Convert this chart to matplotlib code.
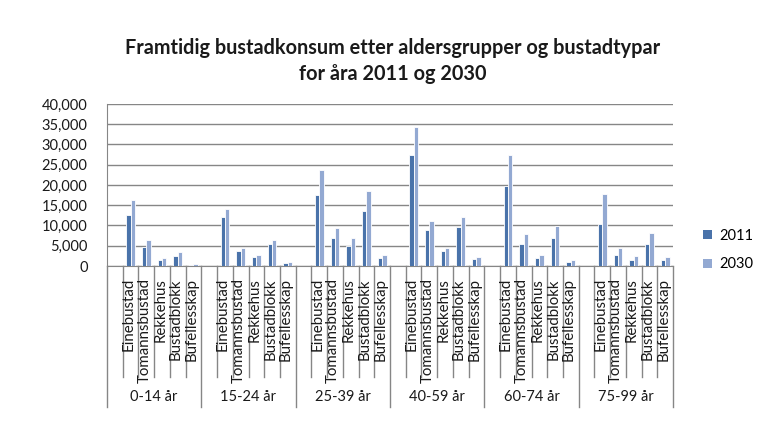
import matplotlib
matplotlib.use("Agg")
import matplotlib.pyplot as plt
import matplotlib.transforms as mtransforms
from matplotlib.patches import Patch
import numpy as np

plt.rcParams['font.family'] = ['Lato', 'DejaVu Sans']

title = "Framtidig bustadkonsum etter aldersgrupper og bustadtypar\nfor åra 2011 og 2030"
groups = ["0-14 år", "15-24 år", "25-39 år", "40-59 år", "60-74 år", "75-99 år"]
types = ["Einebustad", "Tomannsbustad", "Rekkehus", "Bustadblokk", "Bufellesskap"]
series_names = ["2011", "2030"]

v2011 = [
    [12500, 4700, 1500, 2500, 150],
    [12100, 3700, 2200, 5400, 700],
    [17500, 6900, 4900, 13500, 2000],
    [27300, 8900, 3700, 9600, 1700],
    [19700, 5400, 2000, 6900, 1000],
    [10300, 2700, 1500, 5400, 1500],
]
v2030 = [
    [16200, 6400, 2000, 3400, 500],
    [14000, 4400, 2700, 6400, 1000],
    [23600, 9500, 6800, 18600, 2600],
    [34400, 11200, 4350, 12200, 2100],
    [27500, 7800, 2600, 9800, 1500],
    [17900, 4350, 2400, 8100, 2100],
]
yticks = [0, 5000, 10000, 15000, 20000, 25000, 30000, 35000, 40000]

c2011 = "#4A73AA"
c2030 = "#93A9D2"
grid_c = "#868686"

fig = plt.figure(figsize=(7.76, 4.40), dpi=100)
ax = fig.add_axes([107/776, 1-266/440, (673-107)/776, (266-104)/440])

slots = len(types) + 1
n_slots = slots * len(groups)
centers = []
for g in range(len(groups)):
    for c in range(len(types)):
        centers.append(g*slots + c + 1 + 0.5)
centers = np.array(centers)
a = np.array(v2011).ravel()
b = np.array(v2030).ravel()
bw = 0.28
ax.bar(centers - bw/2, a, width=bw, color=c2011, edgecolor="white", linewidth=0.6, zorder=3)
ax.bar(centers + bw/2, b, width=bw, color=c2030, edgecolor="white", linewidth=0.6, zorder=3)

ax.set_xlim(0, n_slots)
ax.set_ylim(0, 40000)
ax.set_yticks(yticks)
ax.set_yticklabels([f"{t:,}" for t in yticks], fontsize=10.5, color="#1a1a1a")
ax.tick_params(axis='y', length=0, pad=14)
ax.set_xticks([])
ax.yaxis.grid(True, color=grid_c, linewidth=1.0, zorder=0)
for s in ["top", "right"]:
    ax.spines[s].set_visible(False)
ax.spines["left"].set_color(grid_c)
ax.spines["bottom"].set_color(grid_c)

trans = mtransforms.blended_transform_factory(ax.transData, ax.transAxes)
# category separator lines
for i in range(n_slots + 1):
    long = (i % slots == 0)
    y0 = -141/162 if long else -111/162
    ax.plot([i, i], [0, y0], color=grid_c, linewidth=1.0, transform=trans, clip_on=False)

# category labels
for x, lab in zip(centers, types * len(groups)):
    ax.text(x - 0.12, -12/162, lab, rotation=90, ha="center", va="top",
            fontsize=10.8, transform=trans, color="#1a1a1a")
# group labels
for g, lab in enumerate(groups):
    ax.text(g*slots + slots/2, -131/162, lab, ha="center", va="center",
            fontsize=10.5, transform=trans, color="#1a1a1a")

fig.text(0.506, 0.862, title, ha="center", va="center", fontsize=14.3,
         fontweight="bold", linespacing=1.35, color="#1a1a1a")

handles = [Patch(facecolor=c2011), Patch(facecolor=c2030)]
fig.legend(handles, series_names, loc="center left", bbox_to_anchor=(690/776, 1-250/440),
           frameon=False, fontsize=10.5, handlelength=0.6, handleheight=0.6,
           handletextpad=0.5, labelspacing=1.0)

fig.savefig("out.png", dpi=100)
